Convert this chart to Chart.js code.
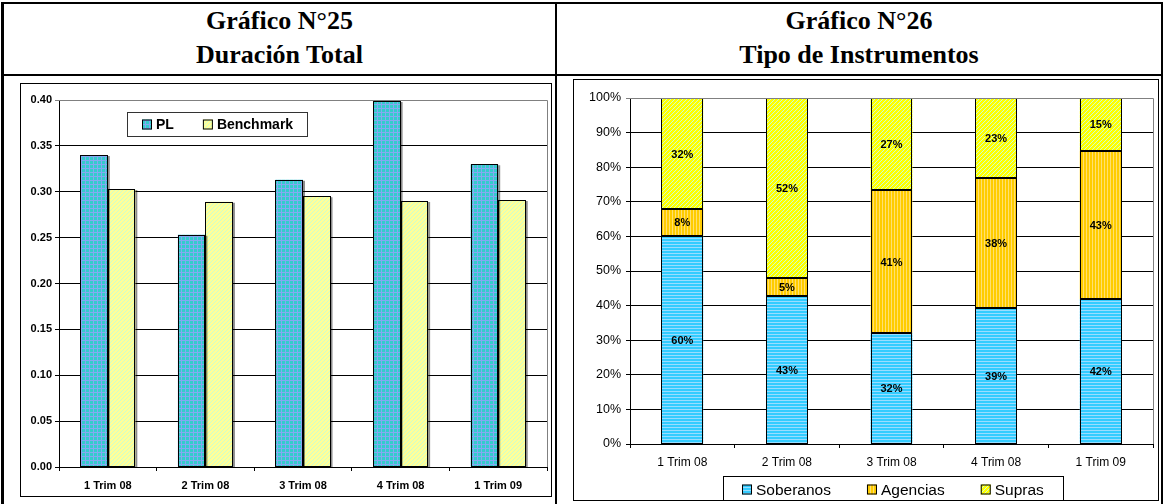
<!DOCTYPE html>
<html>
<head>
<meta charset="utf-8">
<script src="https://cdn.jsdelivr.net/npm/chart.js@4.4.1/dist/chart.umd.min.js"></script>
<style>
  html, body { margin: 0; padding: 0; background: #fff; }
  body { width: 1164px; height: 504px; position: relative; overflow: hidden; }
  .line { position: absolute; background: #000; }
  .title { position: absolute; top: 4px; text-align: center; font-family: "Liberation Serif", "Times New Roman", serif;
           font-weight: bold; font-size: 26px; line-height: 34px; color: #000; }
  .frame { position: absolute; border: 1px solid #000; box-sizing: border-box; background: #fff; }
  canvas { display: block; }
</style>
</head>
<body>
<!-- table borders -->
<div class="line" style="left:1px;top:2px;width:1162px;height:2px;"></div>
<div class="line" style="left:1px;top:2px;width:3px;height:502px;"></div>
<div class="line" style="left:1161px;top:2px;width:2px;height:502px;"></div>
<div class="line" style="left:555px;top:2px;width:2px;height:502px;"></div>
<div class="line" style="left:1px;top:74px;width:1162px;height:2px;"></div>

<div class="title" style="left:4px;width:551px;">Gráfico N°25<br>Duración Total</div>
<div class="title" style="left:557px;width:604px;">Gráfico N°26<br>Tipo de Instrumentos</div>

<div class="frame" style="left:20px;top:83px;width:532px;height:414px;">
  <canvas id="c1" width="530" height="412"></canvas>
</div>
<div class="frame" style="left:573px;top:79px;width:586px;height:422px;">
  <canvas id="c2" width="584" height="420"></canvas>
</div>

<script>
// ---------- DATA ----------
const durCategories = ['1 Trim 08', '2 Trim 08', '3 Trim 08', '4 Trim 08', '1 Trim 09'];
const plValues = [0.340, 0.253, 0.313, 0.399, 0.330];
const benchmarkValues = [0.303, 0.289, 0.295, 0.290, 0.291];
const durSeriesNames = ['PL', 'Benchmark'];

const instCategories = ['1 Trim 08', '2 Trim 08', '3 Trim 08', '4 Trim 08', '1 Trim 09'];
const soberanosValues = [60.2, 42.9, 32.0, 39.2, 41.8];
const agenciasValues = [7.7, 5.0, 41.3, 37.8, 43.0];
const suprasValues = [32.1, 52.1, 26.7, 23.0, 15.2];
const instSeriesNames = ['Soberanos', 'Agencias', 'Supras'];

// ---------- PATTERNS ----------
function makePattern(w, h, painter) {
  const c = document.createElement('canvas');
  c.width = w; c.height = h;
  const g = c.getContext('2d');
  painter(g, w, h);
  return document.getElementById('c1').getContext('2d').createPattern(c, 'repeat');
}
const plPattern = makePattern(4, 4, (g) => {
  g.fillStyle = '#33CCCC'; g.fillRect(0, 0, 4, 4);
  g.fillStyle = '#85A8F2'; g.fillRect(0, 0, 4, 1); g.fillRect(0, 0, 1, 4);
});
const diagPainter = (base, stripe) => (g, w, h) => {
  g.fillStyle = base; g.fillRect(0, 0, w, h);
  g.fillStyle = stripe;
  for (let x = 0; x < w; x++) for (let y = 0; y < h; y++) if ((x + y) % 4 === 3) g.fillRect(x, y, 1, 1);
};
const benchPattern = makePattern(4, 4, diagPainter('#FFFF99', '#CCFFCC'));
const soberanosPattern = makePattern(1, 3, (g) => {
  g.fillStyle = '#33CCFF'; g.fillRect(0, 0, 1, 3);
  g.fillStyle = '#99DDFF'; g.fillRect(0, 2, 1, 1);
});
const agenciasPattern = makePattern(3, 1, (g) => {
  g.fillStyle = '#FFCC00'; g.fillRect(0, 0, 3, 1);
  g.fillStyle = '#FFE070'; g.fillRect(2, 0, 1, 1);
});
const suprasPattern = makePattern(4, 4, diagPainter('#FFFF00', '#CCFFCC'));

const SANS = '"Liberation Sans", Arial, sans-serif';

// ---------- PLUGINS ----------
const shadowPlugin = {
  id: 'barShadow',
  beforeDatasetsDraw(chart) {
    const ctx = chart.ctx; ctx.save();
    ctx.shadowColor = 'rgba(0,0,0,0.45)'; ctx.shadowOffsetX = 2; ctx.shadowOffsetY = 1; ctx.shadowBlur = 0;
  },
  afterDatasetsDraw(chart) { chart.ctx.restore(); }
};

const outlinePlugin = {
  id: 'barOutline',
  afterDatasetsDraw(chart) {
    const ctx = chart.ctx;
    ctx.save();
    ctx.strokeStyle = '#000'; ctx.lineWidth = 1;
    chart.data.datasets.forEach((ds, di) => {
      chart.getDatasetMeta(di).data.forEach((el) => {
        const p = el.getProps(['x', 'y', 'base', 'width'], true);
        const l = Math.round(p.x - p.width / 2) + 0.5, r = Math.round(p.x + p.width / 2) - 0.5;
        const t = Math.round(Math.min(p.y, p.base)) + 0.5, b = Math.round(Math.max(p.y, p.base)) - 0.5;
        ctx.strokeRect(l, t, r - l, b - t);
      });
    });
    ctx.restore();
  }
};

const plotBorderPlugin = {
  id: 'plotBorder',
  afterDraw(chart) {
    const a = chart.chartArea, ctx = chart.ctx;
    ctx.save(); ctx.strokeStyle = '#808080'; ctx.lineWidth = 1;
    ctx.beginPath();
    ctx.moveTo(a.left, Math.round(a.top) + 0.5);
    ctx.lineTo(Math.round(a.right) + 0.5, Math.round(a.top) + 0.5);
    ctx.lineTo(Math.round(a.right) + 0.5, a.bottom);
    ctx.stroke(); ctx.restore();
  }
};

function boxLegendPlugin(opts) {
  return {
    id: 'boxLegend',
    afterDraw(chart) {
      const ctx = chart.ctx;
      ctx.save();
      ctx.font = opts.font;
      ctx.textBaseline = 'middle';
      ctx.fillStyle = '#fff';
      ctx.fillRect(opts.x, opts.y, opts.w, opts.h);
      ctx.strokeStyle = opts.borderColor; ctx.lineWidth = 1;
      ctx.strokeRect(opts.x + 0.5, opts.y + 0.5, opts.w, opts.h);
      let cx = opts.x + opts.padLeft;
      const cy = opts.y + opts.midY;
      chart.data.datasets.forEach((ds) => {
        ctx.fillStyle = ds.backgroundColor;
        ctx.fillRect(cx, cy - opts.sw / 2, opts.sw, opts.sw);
        ctx.strokeStyle = '#000';
        ctx.strokeRect(cx + 0.5, cy - opts.sw / 2 + 0.5, opts.sw - 1, opts.sw - 1);
        cx += opts.sw + opts.textGap;
        ctx.fillStyle = '#000';
        ctx.fillText(ds.label, cx, cy + 1);
        cx += ctx.measureText(ds.label).width + opts.itemGap;
      });
      ctx.restore();
    }
  };
}

const segmentLabelPlugin = {
  id: 'segLabels',
  afterDatasetsDraw(chart) {
    const ctx = chart.ctx;
    ctx.save();
    ctx.font = 'bold 11px ' + SANS;
    ctx.fillStyle = '#000';
    ctx.textAlign = 'center';
    ctx.textBaseline = 'middle';
    chart.data.datasets.forEach((ds, di) => {
      chart.getDatasetMeta(di).data.forEach((el, i) => {
        const p = el.getProps(['x', 'y', 'base'], true);
        ctx.fillText(Math.round(ds.data[i]) + '%', p.x, (p.y + p.base) / 2 + 1);
      });
    });
    ctx.restore();
  }
};

// ---------- CHART 1 ----------
new Chart(document.getElementById('c1'), {
  type: 'bar',
  data: {
    labels: durCategories,
    datasets: [
      { label: durSeriesNames[0], data: plValues, backgroundColor: plPattern, borderWidth: 0 },
      { label: durSeriesNames[1], data: benchmarkValues, backgroundColor: benchPattern, borderWidth: 0 }
    ]
  },
  options: {
    responsive: false, animation: false, devicePixelRatio: 1,
    layout: { padding: { top: 16, right: 4, left: 0, bottom: 0 } },
    datasets: { bar: { categoryPercentage: 0.564, barPercentage: 1.0 } },
    plugins: { legend: { display: false }, tooltip: { enabled: false } },
    scales: {
      x: {
        grid: { drawOnChartArea: false, drawTicks: true, tickLength: 4, color: '#000', offset: true },
        border: { color: '#000', width: 1 },
        ticks: { color: '#000', font: { family: SANS, size: 11, weight: 'bold' }, padding: 8, maxRotation: 0 },
        afterFit(s) { s.height = 29; }
      },
      y: {
        min: 0, max: 0.4,
        grid: { color: (c) => (c.tick && c.tick.value >= 0.4 ? '#808080' : '#000'), tickLength: 4 },
        border: { color: '#000', width: 1 },
        ticks: { stepSize: 0.05, color: '#000', padding: 3, font: { family: SANS, size: 11, weight: 'bold' },
                 callback: (v) => Number(v).toFixed(2) },
        afterFit(s) { s.width = 38; }
      }
    }
  },
  plugins: [shadowPlugin, outlinePlugin, plotBorderPlugin,
    boxLegendPlugin({ x: 106, y: 28, w: 180, h: 24, padLeft: 15, midY: 12.5, sw: 10, textGap: 4, itemGap: 29,
                      font: 'bold 14px ' + SANS, borderColor: '#333' })]
});

// ---------- CHART 2 ----------
new Chart(document.getElementById('c2'), {
  type: 'bar',
  data: {
    labels: instCategories,
    datasets: [
      { label: instSeriesNames[0], data: soberanosValues, backgroundColor: soberanosPattern, borderWidth: 0 },
      { label: instSeriesNames[1], data: agenciasValues, backgroundColor: agenciasPattern, borderWidth: 0 },
      { label: instSeriesNames[2], data: suprasValues, backgroundColor: suprasPattern, borderWidth: 0 }
    ]
  },
  options: {
    responsive: false, animation: false, devicePixelRatio: 1,
    layout: { padding: { top: 18, right: 5, left: 0, bottom: 0 } },
    datasets: { bar: { categoryPercentage: 0.4, barPercentage: 1.0 } },
    plugins: { legend: { display: false }, tooltip: { enabled: false } },
    scales: {
      x: {
        stacked: true,
        grid: { drawOnChartArea: false, drawTicks: true, tickLength: 4, color: '#000', offset: true },
        border: { color: '#000', width: 1 },
        ticks: { color: '#000', font: { family: SANS, size: 12 }, padding: 7, maxRotation: 0 },
        afterFit(s) { s.height = 56; }
      },
      y: {
        stacked: true, min: 0, max: 100,
        grid: { color: (c) => (c.tick && c.tick.value >= 100 ? '#808080' : '#000'), tickLength: 4 },
        border: { color: '#000', width: 1 },
        ticks: { stepSize: 10, color: '#000', padding: 5, font: { family: SANS, size: 12.5 },
                 callback: (v) => v + '%' },
        afterFit(s) { s.width = 56; }
      }
    }
  },
  plugins: [outlinePlugin, segmentLabelPlugin, plotBorderPlugin,
    boxLegendPlugin({ x: 149, y: 396, w: 340, h: 26, padLeft: 19, midY: 13.5, sw: 10, textGap: 4, itemGap: 36,
                      font: '15.5px ' + SANS, borderColor: '#000' })]
});
</script>
</body>
</html>
